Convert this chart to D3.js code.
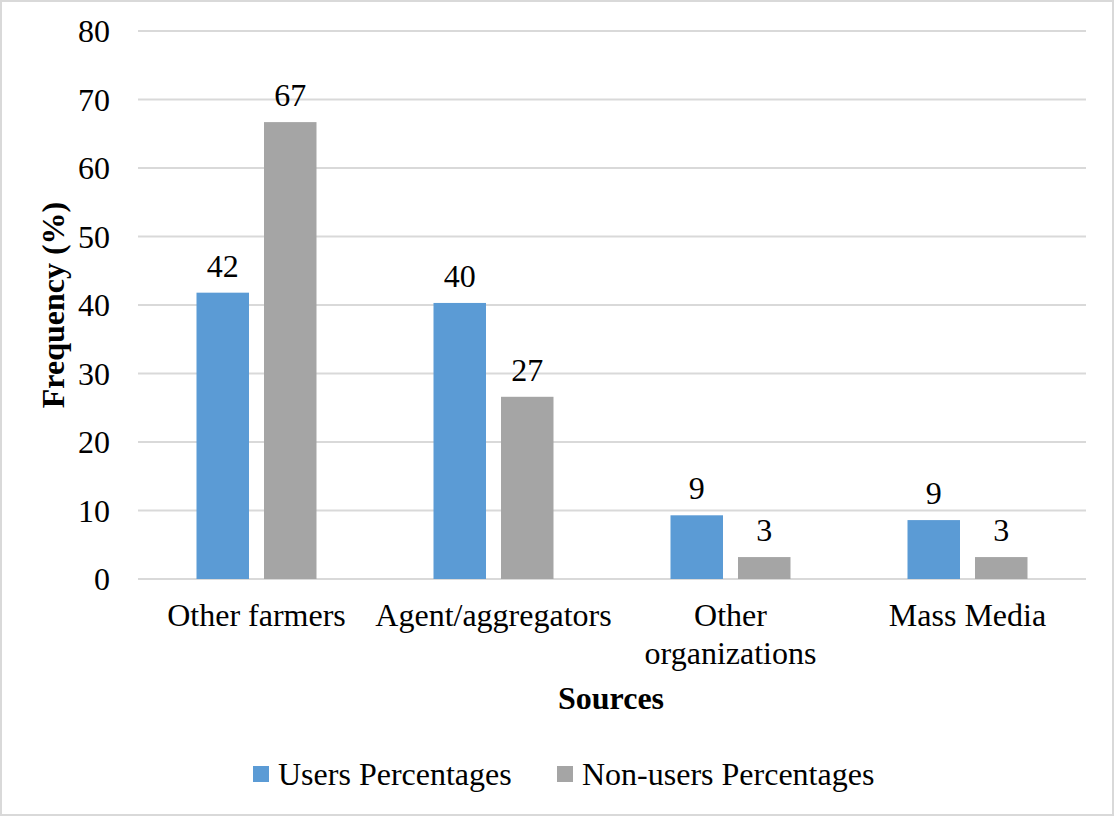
<!DOCTYPE html>
<html>
<head>
<meta charset="utf-8">
<script src="https://cdn.jsdelivr.net/npm/d3@7"></script>
<style>
  html, body { margin: 0; padding: 0; background: #fff; }
  svg { display: block; font-family: "Liberation Serif", "Times New Roman", serif; }
</style>
</head>
<body>
<svg id="chart" width="1115" height="817"></svg>
<script>
// Sources of information, share of respondents (%)
const categories = ["Other farmers", "Agent/aggregators", "Other organizations", "Mass Media"];
const categoryLines = [["Other farmers"], ["Agent/aggregators"], ["Other", "organizations"], ["Mass Media"]];
const seriesNames = ["Users Percentages", "Non-users Percentages"];
const usersValues = [41.8, 40.3, 9.3, 8.6];
const nonUsersValues = [66.7, 26.6, 3.2, 3.2];
const yTicks = [0, 10, 20, 30, 40, 50, 60, 70, 80];

const colors = { "Users Percentages": "#5b9bd5", "Non-users Percentages": "#a5a5a5" };
const fontSize = 32;

const svg = d3.select("#chart");
const W = 1115, H = 817;

// outer frame
svg.append("rect")
  .attr("x", 1).attr("y", 1).attr("width", W - 3).attr("height", H - 3)
  .attr("fill", "#fff").attr("stroke", "#d9d9d9").attr("stroke-width", 2);

const plot = { left: 138, right: 1086, top: 31, bottom: 579 };

const x = d3.scaleBand().domain(categories).range([plot.left, plot.right]).padding(0);
const xs = d3.scaleBand().domain(seriesNames).range([0, 120]).paddingInner(15 / 67.5).paddingOuter(0);
const y = d3.scaleLinear().domain([0, 80]).range([plot.bottom, plot.top]);

// gridlines
svg.append("g").selectAll("line").data(yTicks).join("line")
  .attr("x1", plot.left).attr("x2", plot.right)
  .attr("y1", d => y(d)).attr("y2", d => y(d))
  .attr("stroke", "#d9d9d9").attr("stroke-width", 2);

// y tick labels
svg.append("g").selectAll("text").data(yTicks).join("text")
  .attr("x", 110).attr("y", d => y(d)).attr("dy", "0.35em")
  .attr("text-anchor", "end").attr("font-size", fontSize).attr("fill", "#000")
  .text(d => d);

const rows = categories.map((c, i) => ({
  category: c,
  values: [
    { series: seriesNames[0], value: usersValues[i] },
    { series: seriesNames[1], value: nonUsersValues[i] }
  ]
}));

const fmt = d3.format(".0f");

const groups = svg.append("g").selectAll("g").data(rows).join("g")
  .attr("transform", d => `translate(${x(d.category) + x.bandwidth() / 2 - 60},0)`);

groups.selectAll("rect").data(d => d.values).join("rect")
  .attr("x", d => xs(d.series))
  .attr("width", xs.bandwidth())
  .attr("y", d => y(d.value))
  .attr("height", d => y(0) - y(d.value))
  .attr("fill", d => colors[d.series]);

groups.selectAll("text").data(d => d.values).join("text")
  .attr("x", d => xs(d.series) + xs.bandwidth() / 2)
  .attr("y", d => y(d.value) - 16)
  .attr("text-anchor", "middle").attr("font-size", fontSize).attr("fill", "#000")
  .text(d => fmt(d.value));

// category labels
const catG = svg.append("g").selectAll("text").data(categories).join("text")
  .attr("x", d => x(d) + x.bandwidth() / 2)
  .attr("y", 626)
  .attr("text-anchor", "middle").attr("font-size", fontSize).attr("fill", "#000");
catG.selectAll("tspan").data((d, i) => categoryLines[i]).join("tspan")
  .attr("x", function () { return d3.select(this.parentNode).attr("x"); })
  .attr("dy", (d, i) => i === 0 ? 0 : 38)
  .text(d => d);

// axis titles
svg.append("text")
  .attr("x", (plot.left + plot.right) / 2 - 1).attr("y", 709)
  .attr("text-anchor", "middle").attr("font-size", fontSize).attr("font-weight", "bold")
  .text("Sources");

svg.append("text")
  .attr("transform", `translate(64,${(plot.top + plot.bottom) / 2}) rotate(-90)`)
  .attr("text-anchor", "middle").attr("font-size", fontSize).attr("font-weight", "bold")
  .text("Frequency (%)");

// legend
const legendItems = [
  { name: seriesNames[0], x: 253 },
  { name: seriesNames[1], x: 557 }
];
const lg = svg.append("g").selectAll("g").data(legendItems).join("g")
  .attr("transform", d => `translate(${d.x},766)`);
lg.append("rect").attr("width", 16).attr("height", 16).attr("fill", d => colors[d.name]);
lg.append("text").attr("x", 25).attr("y", 8).attr("dy", "0.35em")
  .attr("font-size", fontSize).attr("fill", "#000").text(d => d.name);
</script>
</body>
</html>
